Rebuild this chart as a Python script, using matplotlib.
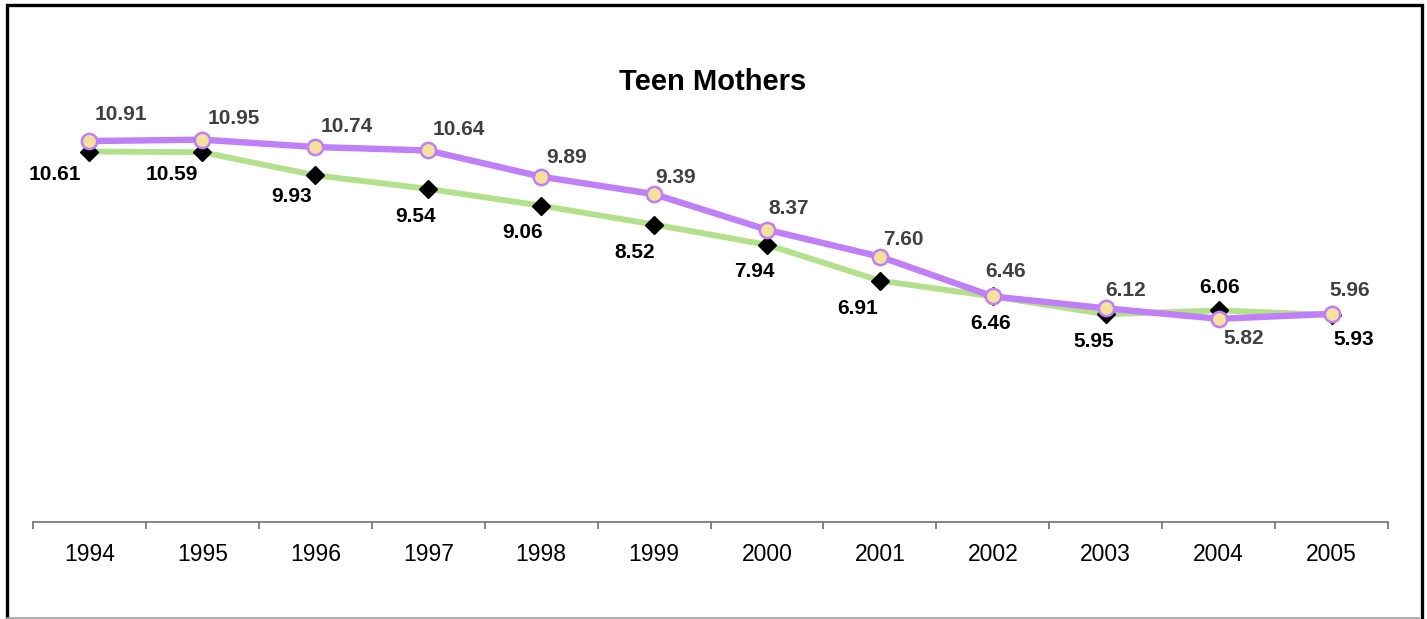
import matplotlib
matplotlib.use("Agg")
import matplotlib.pyplot as plt
from matplotlib.patches import Rectangle
from matplotlib.lines import Line2D

years = ["1994", "1995", "1996", "1997", "1998", "1999", "2000", "2001", "2002", "2003", "2004", "2005"]
series_green = [10.61, 10.59, 9.93, 9.54, 9.06, 8.52, 7.94, 6.91, 6.46, 5.95, 6.06, 5.93]
series_purple = [10.91, 10.95, 10.74, 10.64, 9.89, 9.39, 8.37, 7.60, 6.46, 6.12, 5.82, 5.96]

# label offsets in pixels (layout only)
green_off = [(-35, -23), (-31, -22), (-24, -21), (-13, -28), (-19, -27), (-19, -28),
             (-13, -27), (-22, -28), (-2, -27), (-12, -27), (1, 23), (22, -25)]
purple_off = [(31, 27), (31, 21), (31, 20), (31, 21), (25, 19), (22, 17),
              (22, 21), (24, 17), (13, 25), (20, 18), (25, -20), (18, 23)]

W, H = 1427, 619
fig = plt.figure(figsize=(W / 100, H / 100), dpi=100)
fig.patch.set_facecolor("white")

ax = fig.add_axes([33 / W, (H - 522) / H, (1388 - 33) / W, (522 - 103) / H])
x = list(range(len(years)))

ax.plot(x, series_green, color="#b3e08a", lw=4.2, marker="D", markersize=9,
        markerfacecolor="black", markeredgecolor="black", zorder=3, solid_joinstyle="round")
ax.plot(x, series_purple, color="#bf7ff9", lw=4.6, marker="o", markersize=11,
        markerfacecolor="#f5e19c", markeredgecolor="#bf7ff9", markeredgewidth=1.8,
        zorder=4, solid_joinstyle="round")

lab_font = dict(family="Liberation Sans", fontsize=15, fontweight="bold")
for i, v in enumerate(series_green):
    ax.annotate(f"{v:.2f}", (i, v), xytext=green_off[i], textcoords="offset pixels",
                ha="center", va="center", color="black", zorder=6, **lab_font)
for i, v in enumerate(series_purple):
    ax.annotate(f"{v:.2f}", (i, v), xytext=purple_off[i], textcoords="offset pixels",
                ha="center", va="center", color="#404040", zorder=6, **lab_font)

ax.set_xlim(-0.5, len(years) - 0.5)
ax.set_ylim(0, 12)
for s in ["top", "right", "left"]:
    ax.spines[s].set_visible(False)
ax.spines["bottom"].set_color("#707070")
ax.spines["bottom"].set_linewidth(1.2)
ax.set_yticks([])
ax.set_xticks([i - 0.5 for i in range(len(years) + 1)], minor=False)
ax.set_xticklabels([])
ax.tick_params(axis="x", which="major", length=5, width=1.2, color="#707070", direction="out")
ax.set_xticks(x, minor=True)
ax.set_xticklabels(years, minor=True, fontsize=16.5, family="Liberation Sans")
ax.tick_params(axis="x", which="minor", length=0, pad=15)
ax.set_facecolor("none")

fig.text(713 / W, 1 - 82 / H, "Teen Mothers", ha="center", va="center",
         fontsize=21, fontweight="bold", family="Liberation Sans")

# outer frame
fig.add_artist(Rectangle((6.5 / W, -0.02), (1421.5 - 6.5) / W, (H - 5) / H + 0.02,
                         transform=fig.transFigure, fill=False, edgecolor="black", lw=2.4))
fig.add_artist(Line2D([6.5 / W, 1419 / W], [1 - 617.5 / H, 1 - 617.5 / H],
                      transform=fig.transFigure, color="#a0a0a0", lw=1.2))

fig.savefig("out.png", dpi=100)
